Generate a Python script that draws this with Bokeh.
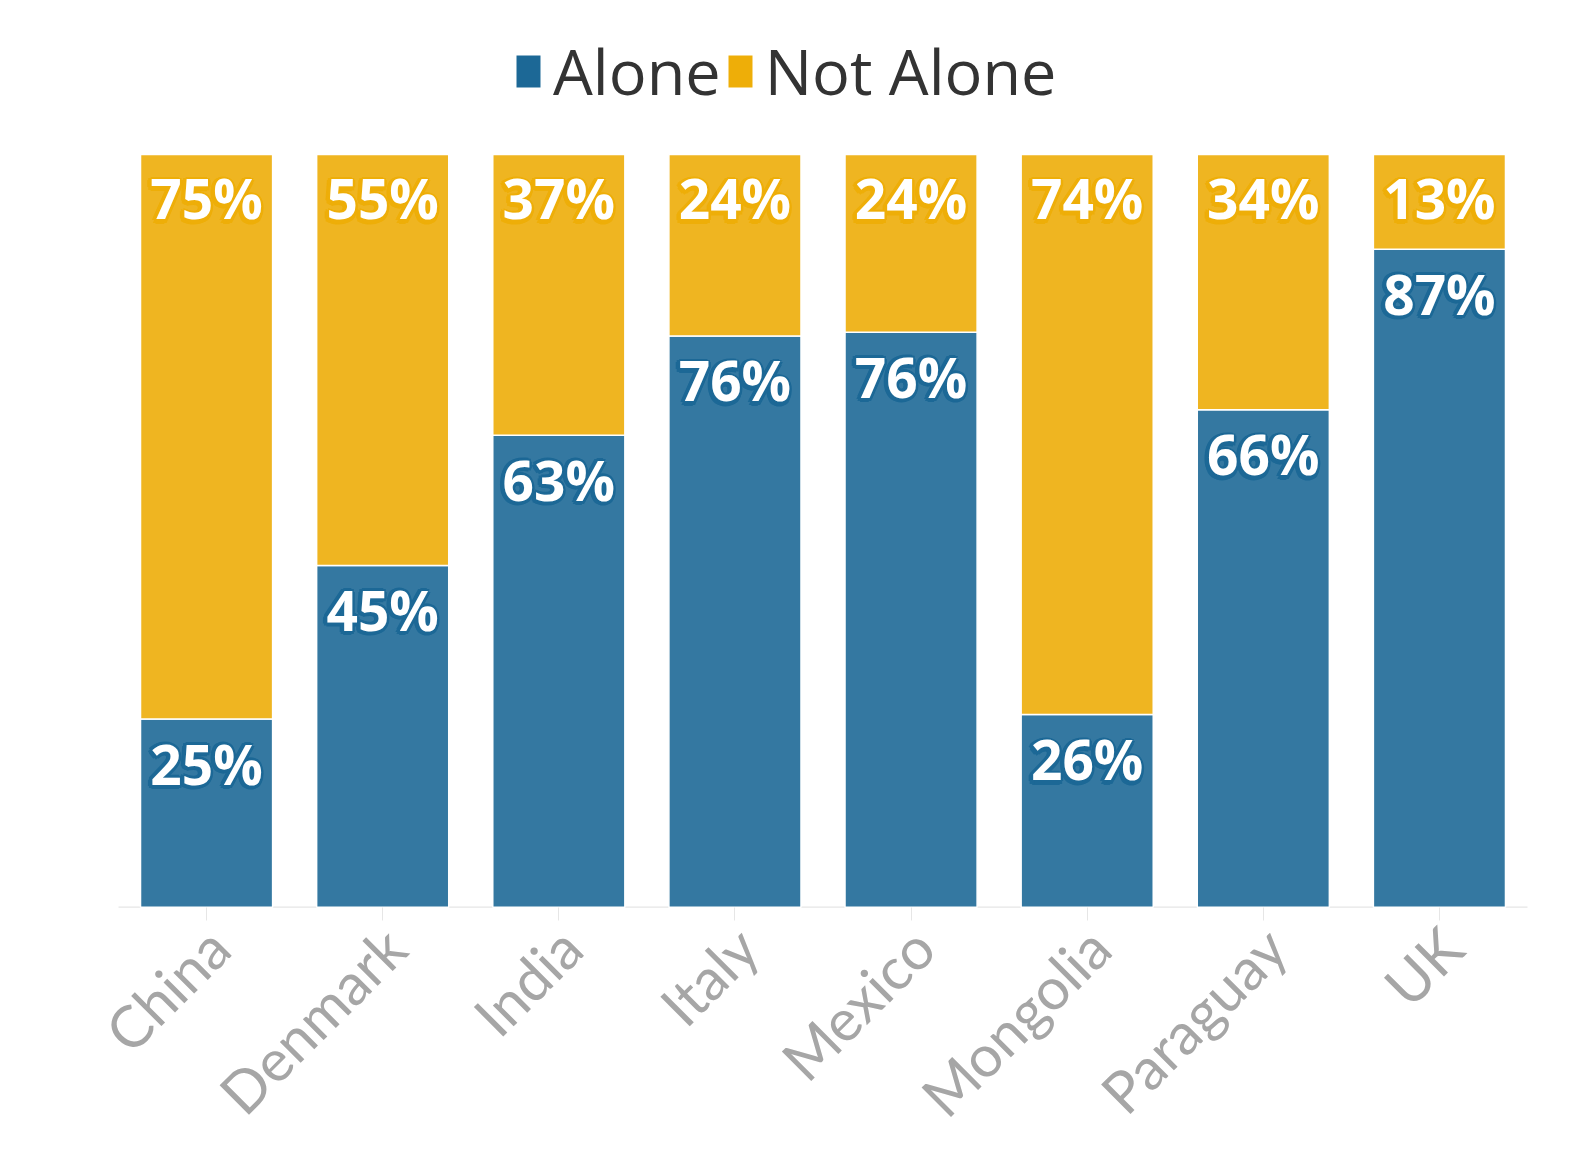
import math
from bokeh.plotting import figure
from bokeh.models import ColumnDataSource, Range1d, Legend, LegendItem, FactorRange
from bokeh.core.properties import value
from bokeh.embed import file_html
from bokeh.resources import INLINE

categories = ["China", "Denmark", "India", "Italy", "Mexico", "Mongolia", "Paraguay", "UK"]
alone = [25.0, 45.4, 62.7, 75.9, 76.4, 25.6, 66.1, 87.4]
not_alone = [75.0, 54.6, 37.3, 24.1, 23.6, 74.4, 33.9, 12.6]
alone_labels = ["25%", "45%", "63%", "76%", "76%", "26%", "66%", "87%"]
not_alone_labels = ["75%", "55%", "37%", "24%", "24%", "74%", "34%", "13%"]
series_names = ["Alone", "Not Alone"]

BLUE = "#1c6896"
GOLD = "#eeae08"
BLUE_BAR = "#3478a1"
GOLD_BAR = "#efb521"

source = ColumnDataSource(dict(
    cat=categories,
    alone=alone,
    not_alone=not_alone,
    top_total=[a + b for a, b in zip(alone, not_alone)],
    alone_lbl=alone_labels,
    not_alone_lbl=not_alone_labels,
))

# layout (pixels inside the frame): the frame spans the whole figure height so the
# legend (top) and the rotated category labels (bottom) can live inside it.
FRAME_H = 1134
TOP100_PX = 154.0   # where 100 % sits
ZERO_PX = 906.7     # where 0 % sits (axis line)
per_px = 100.0 / (ZERO_PX - TOP100_PX)
y_range = Range1d(-(FRAME_H - ZERO_PX) * per_px, 100 + TOP100_PX * per_px)

CAT_PX = 176.1      # width of one category slot
SIDE_PX = 25        # extra frame room left/right of the categories (for rotated labels)
n = len(categories)
x_range = FactorRange(factors=categories, range_padding=SIDE_PX / CAT_PX,
                      range_padding_units="absolute")
FRAME_W = round(n * CAT_PX + 2 * SIDE_PX)
LEFT = 118 - SIDE_PX

p = figure(x_range=x_range, y_range=y_range,
           frame_width=FRAME_W, frame_height=FRAME_H,
           output_backend="svg", toolbar_location=None,
           min_border_left=LEFT, min_border_right=1576 - LEFT - FRAME_W,
           min_border_top=0, min_border_bottom=0)
p.outline_line_color = None
p.background_fill_color = "white"
p.border_fill_color = "white"

# axis line across the category slots
p.segment(x0=[0], y0=[0], x1=[n], y1=[0], line_color="#e6e6e6", line_width=1.2)

p.vbar_stack(["alone", "not_alone"], x="cat", width=0.75, source=source,
             fill_color=[BLUE_BAR, GOLD_BAR], line_color="white", line_width=1.5)

FONT = value("Open Sans")
LBL_SIZE = "55px"
outline_offsets = [(-3.5, 0), (3.5, 0), (0, -3.5), (0, 3.5),
                   (-2.5, -2.5), (2.5, -2.5), (-2.5, 2.5), (2.5, 2.5)]
for ycol, tcol, col, off in (("alone", "alone_lbl", BLUE, 44),
                             ("top_total", "not_alone_lbl", GOLD, 43)):
    for dx, dy in outline_offsets:
        p.text(x="cat", y=ycol, text=tcol, source=source, text_align="center",
               text_baseline="middle", x_offset=dx - 1, y_offset=off + dy + 1,
               text_color=col, text_font=FONT, text_font_style="bold",
               text_font_size=LBL_SIZE)
    p.text(x="cat", y=ycol, text=tcol, source=source, text_align="center",
           text_baseline="middle", y_offset=off, text_color="white",
           text_font=FONT, text_font_style="bold", text_font_size=LBL_SIZE)

# category labels, rotated 45 degrees, ending just right of each tick
p.text(x="cat", y=0, text="cat", source=source, angle=math.pi / 4,
       text_align="right", text_baseline="alphabetic", x_offset=12, y_offset=30,
       text_color="#a6a6a6", text_font=value("Lato"), text_font_size="58px")

# legend
r1 = p.vbar(x=[categories[0]], top=[0], width=0.1, fill_color=BLUE, line_color=None, visible=False)
r2 = p.vbar(x=[categories[0]], top=[0], width=0.1, fill_color=GOLD, line_color=None, visible=False)
legend = Legend(items=[LegendItem(label=series_names[0], renderers=[r1]),
                       LegendItem(label=series_names[1], renderers=[r2])],
                orientation="horizontal", location=(395 + SIDE_PX, FRAME_H - 113),
                padding=0, margin=0, spacing=4, label_standoff=10, glyph_width=30,
                glyph_height=40, label_text_font_size="63px",
                label_text_color="#333333", label_text_font="Open Sans",
                border_line_color=None, background_fill_alpha=0)
p.add_layout(legend, "center")

p.yaxis.visible = False
p.ygrid.visible = False
p.xgrid.visible = False
p.xaxis.fixed_location = 0
p.xaxis.axis_line_color = None
p.xaxis.major_tick_line_color = "#e6e6e6"
p.xaxis.major_tick_out = 13
p.xaxis.major_tick_in = 0
p.xaxis.minor_tick_line_color = None
p.xaxis.major_label_text_color = None
p.xaxis.major_label_standoff = 0

open("out.html", "w").write(file_html(p, INLINE))
